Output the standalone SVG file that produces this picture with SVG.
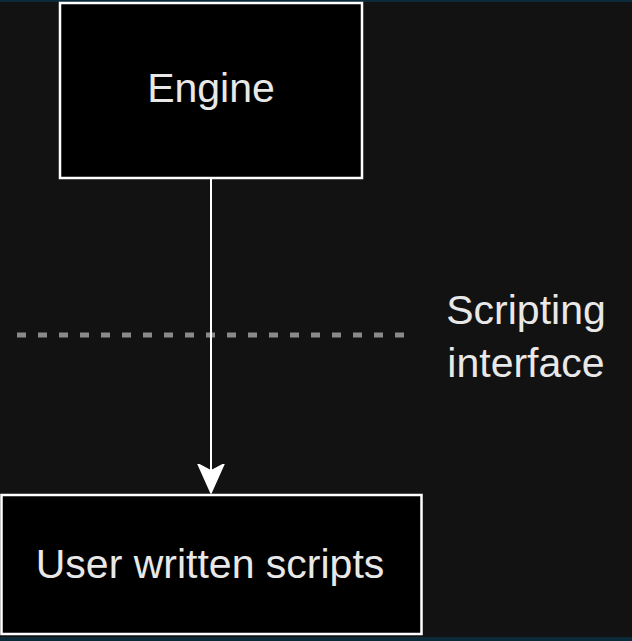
<svg xmlns="http://www.w3.org/2000/svg" width="632" height="641" viewBox="0 0 632 641">
  <style>
    .box { fill: #000000; stroke: #ffffff; stroke-width: 2.5; }
    .label { font-family: "Liberation Sans", Arial, sans-serif; font-size: 41px; fill: #e8e8e8; }
    .conn { stroke: #ffffff; stroke-width: 2; fill: none; }
    .sep { stroke: #8a8a8a; stroke-width: 5; stroke-dasharray: 9 12; fill: none; }
  </style>
  <defs>
    <marker id="arrow" markerUnits="userSpaceOnUse" markerWidth="30" markerHeight="32" refX="29" refY="14" orient="auto" viewBox="0 0 30 28">
      <path d="M 29 14 L 0 1 L 7 14 L 0 27 Z" fill="#ffffff" stroke="#ffffff" stroke-width="1.5" stroke-linejoin="round"/>
    </marker>
  </defs>
  <rect x="0" y="0" width="632" height="641" fill="#121212"/>
  <rect x="0" y="0" width="632" height="2" fill="#0b2a3a"/>
  <rect x="0" y="637" width="632" height="4" fill="#0b2a3a"/>

  <g id="connectors">
    <path class="sep" d="M 17 335 L 405 335"/>
    <path d="M 211 179 L 211 493" class="conn" marker-end="url(#arrow)"/>
  </g>

  <g id="engine">
    <rect class="box" x="60" y="3" width="302" height="175"/>
    <text class="label" x="211" y="102" text-anchor="middle">Engine</text>
  </g>

  <g id="scripting-interface">
    <text class="label" x="526" y="324" text-anchor="middle">Scripting</text>
    <text class="label" x="526" y="377" text-anchor="middle">interface</text>
  </g>

  <g id="user-scripts">
    <rect class="box" x="1.5" y="495" width="420" height="139"/>
    <text class="label" x="210" y="578" text-anchor="middle">User written scripts</text>
  </g>
</svg>
